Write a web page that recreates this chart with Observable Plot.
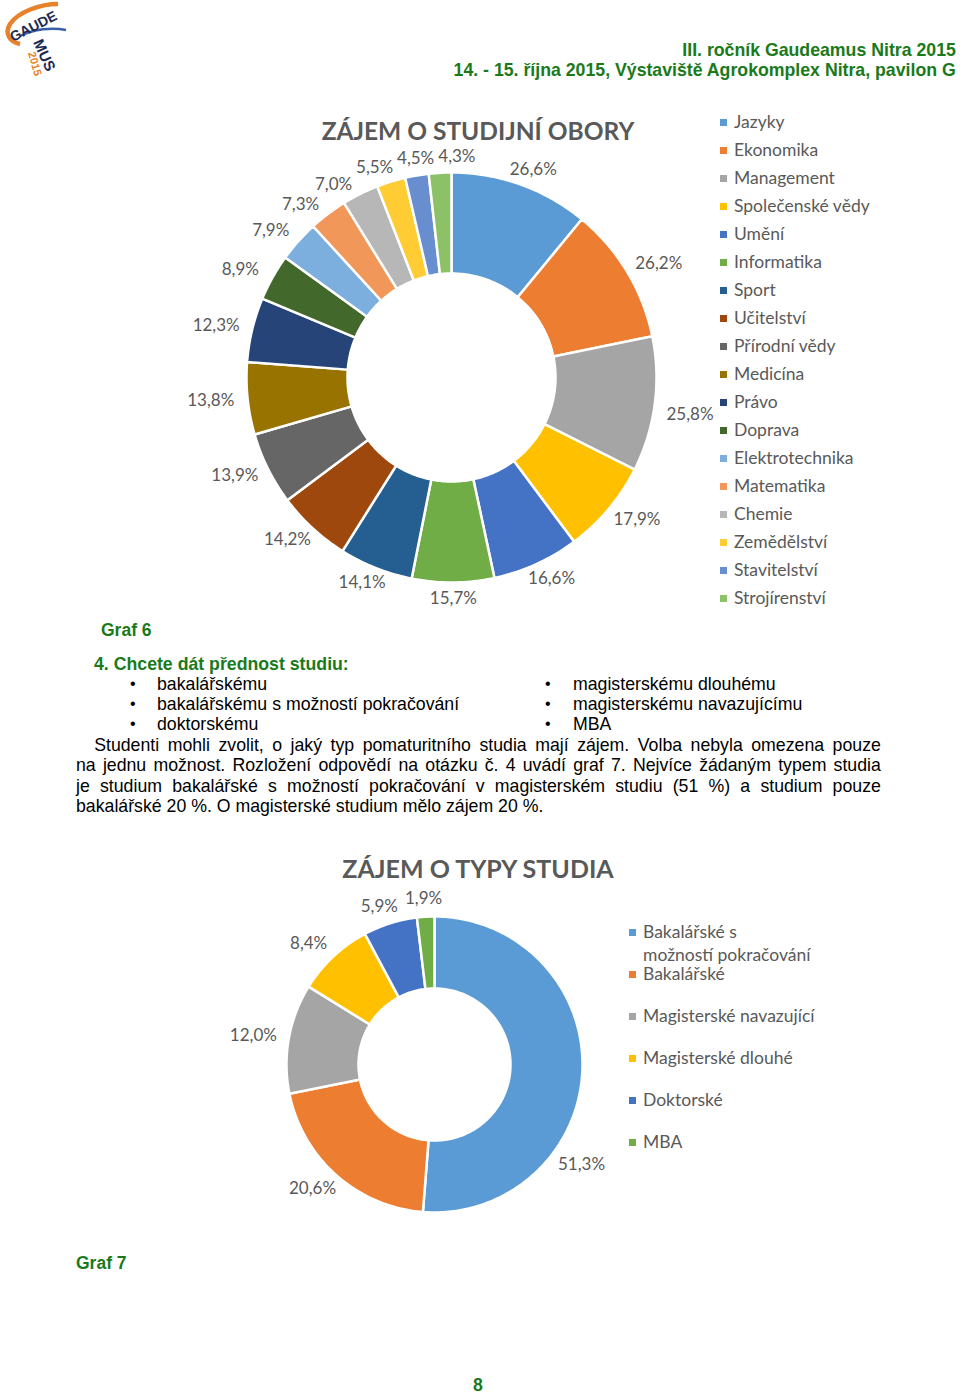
<!DOCTYPE html>
<html><head><meta charset="utf-8">
<script src="https://cdn.jsdelivr.net/npm/d3@7"></script>
<script src="https://cdn.jsdelivr.net/npm/@observablehq/plot@0.6"></script>
<style>
body{margin:0;background:#fff;}
#page{position:relative;width:960px;height:1397px;overflow:hidden;background:#fff;font-family:"Liberation Sans",Arial,sans-serif;color:#000;}
.abs{position:absolute;white-space:nowrap;}
.green{color:#1a7a1a;font-weight:bold;}
.nar{transform:scaleX(0.957);transform-origin:left center;}
.narR{transform:scaleX(0.957);transform-origin:right center;}
.ctitle{position:absolute;font-family:Lato,sans-serif;font-weight:bold;color:#595959;white-space:nowrap;transform:translateX(-50%);}
.leg{position:absolute;font-family:Lato,sans-serif;color:#595959;font-size:17.5px;white-space:nowrap;}
.leg i{position:absolute;left:-14px;width:7px;height:7px;}
.para{position:absolute;left:76px;width:841px;font-size:18.5px;line-height:20.3px;transform:scaleX(0.957);transform-origin:left top;}
.para div{text-align:justify;text-align-last:justify;white-space:nowrap;}
.para div.last{text-align-last:left;}
</style></head>
<body><div id="page">
<svg class="abs" style="left:0;top:0" width="90" height="90" viewBox="0 0 90 90">
  <path d="M58 4 C 40 4, 18 12, 10 24 C 4 34, 10 42, 20 44" fill="none" stroke="#E8822A" stroke-width="4.5"/>
  <path d="M20 36 C 34 29, 52 27, 66 30" fill="none" stroke="#3b5ea8" stroke-width="2.5"/>
  <text x="0" y="0" transform="translate(13,42) rotate(-27)" font-family="Liberation Sans" font-weight="bold" font-size="14" fill="#1d2a50">GAUDE</text>
  <text x="0" y="0" transform="translate(33,42) rotate(66)" font-family="Liberation Sans" font-weight="bold" font-size="15" fill="#1d2a50">MUS</text>
  <text x="0" y="0" transform="translate(28,53) rotate(74)" font-family="Liberation Sans" font-weight="bold" font-size="11" fill="#E8822A">2015</text>
</svg>
<div class="abs green narR" style="right:4px;top:40px;font-size:18.5px;line-height:20px;">III. ročník Gaudeamus Nitra 2015</div>
<div class="abs green narR" style="right:4px;top:60px;font-size:18.5px;line-height:20px;">14. - 15. října 2015, Výstaviště Agrokomplex Nitra, pavilon G</div>

<div class="ctitle" style="left:478px;top:118px;font-size:24.5px;line-height:26px;">ZÁJEM O STUDIJNÍ OBORY</div>
<div id="chart1" class="abs" style="left:180px;top:100px;"></div>
<div id="legend1"></div>

<div class="abs green" style="left:101px;top:620px;font-size:17.5px;line-height:20px;">Graf 6</div>
<div class="abs green nar" style="left:94px;top:654px;font-size:18.5px;line-height:20px;">4. Chcete dát přednost studiu:</div>
<div id="bullets"></div>
<div class="para" style="top:735px;">
  <div style="padding-left:19px;">Studenti mohli zvolit, o jaký typ pomaturitního studia mají zájem. Volba nebyla omezena pouze</div>
  <div>na jednu možnost. Rozložení odpovědí na otázku č. 4 uvádí graf 7. Nejvíce žádaným typem studia</div>
  <div>je studium bakalářské s možností pokračování v magisterském studiu (51 %) a studium pouze</div>
  <div class="last">bakalářské 20 %. O magisterské studium mělo zájem 20 %.</div>
</div>

<div class="ctitle" style="left:478px;top:855px;font-size:25px;line-height:26px;">ZÁJEM O TYPY STUDIA</div>
<div id="chart2" class="abs" style="left:220px;top:880px;"></div>
<div id="legend2"></div>

<div class="abs green" style="left:76px;top:1253px;font-size:17.5px;line-height:20px;">Graf 7</div>
<div class="abs green nar" style="left:473px;top:1375px;font-size:18.5px;line-height:20px;">8</div>
</div>
<script>
// ---- data: Graf 6 ----
const fieldNames = ["Jazyky","Ekonomika","Management","Společenské vědy","Umění","Informatika","Sport","Učitelství","Přírodní vědy","Medicína","Právo","Doprava","Elektrotechnika","Matematika","Chemie","Zemědělství","Stavitelství","Strojírenství"];
const fieldValues = [26.6,26.2,25.8,17.9,16.6,15.7,14.1,14.2,13.9,13.8,12.3,8.9,7.9,7.3,7.0,5.5,4.5,4.3];
const fieldColors = ["#5B9BD5","#ED7D31","#A5A5A5","#FFC000","#4472C4","#70AD47","#255E91","#9E480E","#666666","#997300","#264478","#43682B","#7CAFDD","#F1975A","#B7B7B7","#FFCD33","#698ED0","#8CC168"];
// ---- data: Graf 7 ----
const typeNames = ["Bakalářské s možností pokračování","Bakalářské","Magisterské navazující","Magisterské dlouhé","Doktorské","MBA"];
const typeLegend = [["Bakalářské s","možností pokračování"],["Bakalářské"],["Magisterské navazující"],["Magisterské dlouhé"],["Doktorské"],["MBA"]];
const typeValues = [51.3,20.6,12.0,8.4,5.9,1.9];
const typeColors = ["#5B9BD5","#ED7D31","#A5A5A5","#FFC000","#4472C4","#70AD47"];
// ---- question options ----
const optionsLeft = ["bakalářskému","bakalářskému s možností pokračování","doktorskému"];
const optionsRight = ["magisterskému dlouhému","magisterskému navazujícímu","MBA"];

const fmt = v => v.toFixed(1).replace(".", ",") + "%";

// spread labels along their ellipse so that they do not overlap each other or obstacles
function relax(labels, rx, ry, obstacles) {
  const h = 17, pad = 3, step = 0.003;
  const pos = L => [rx * Math.sin(L.a), -ry * Math.cos(L.a)];
  const hit = (p, w, q, w2) => Math.abs(p[0] - q[0]) < (w + w2) / 2 + pad && Math.abs(p[1] - q[1]) < h + pad;
  for (let it = 0; it < 3000; it++) {
    let moved = false;
    for (let i = 0; i < labels.length; i++) {
      const A = labels[i], B = labels[(i + 1) % labels.length];
      if (A === B) continue;
      if (hit(pos(A), A.w, pos(B), B.w)) { A.a -= step; B.a += step; moved = true; }
    }
    labels.forEach(L => obstacles.forEach(o => {
      const p = pos(L);
      if (p[0] + L.w / 2 + pad > o.x0 && p[0] - L.w / 2 - pad < o.x1 && p[1] + h / 2 + pad > o.y0 && p[1] - h / 2 - pad < o.y1) {
        const ox = (o.x0 + o.x1) / 2, oy = (o.y0 + o.y1) / 2;
        const tx = rx * Math.cos(L.a), ty = ry * Math.sin(L.a);
        L.a += ((p[0] - ox) * tx + (p[1] - oy) * ty >= 0 ? 1 : -1) * step;
        moved = true;
      }
    }));
    if (!moved) break;
  }
}

function donut({names, values, colors, rOuter, rInner, labelRx, labelRy, width, height, cx, cy, gap, obstacles}) {
  const total = d3.sum(values);
  let acc = 0;
  const pts = [], labels = [];
  values.forEach((v, i) => {
    const a0 = acc / total * 2 * Math.PI; acc += v;
    const a1 = acc / total * 2 * Math.PI;
    const n = Math.max(2, Math.ceil((a1 - a0) / (Math.PI / 180)));
    const ring = [];
    for (let k = 0; k <= n; k++) { const a = a0 + (a1 - a0) * k / n; ring.push([rOuter * Math.sin(a), rOuter * Math.cos(a)]); }
    for (let k = n; k >= 0; k--) { const a = a0 + (a1 - a0) * k / n; ring.push([rInner * Math.sin(a), rInner * Math.cos(a)]); }
    ring.push(ring[0]);
    ring.forEach(([x, y]) => pts.push({name: names[i], x, y}));
    const text = fmt(v);
    labels.push({a: (a0 + a1) / 2, text, w: text.length * 9.4});
  });
  relax(labels, labelRx, labelRy, obstacles);
  labels.forEach(L => { L.x = labelRx * Math.sin(L.a); L.y = labelRy * Math.cos(L.a); });
  return Plot.plot({
    width, height, margin: 0,
    x: {domain: [-cx, width - cx], axis: null},
    y: {domain: [cy - height, cy], axis: null},
    color: {domain: names, range: colors},
    style: {fontFamily: "Lato, sans-serif", background: "transparent", overflow: "visible"},
    marks: [
      Plot.line(pts, {x: "x", y: "y", z: "name", fill: "name", stroke: "white", strokeWidth: gap}),
      Plot.text(labels, {x: "x", y: "y", text: "text", fill: "#595959", fontSize: 17})
    ]
  });
}

// obstacles are given relative to the donut centre (page 451,377 and 434,1064)
document.getElementById("chart1").appendChild(donut({
  names: fieldNames, values: fieldValues, colors: fieldColors,
  rOuter: 205, rInner: 104, labelRx: 242, labelRy: 221,
  width: 540, height: 520, cx: 271, cy: 277, gap: 2.5,
  obstacles: [{x0: 716 - 451, x1: 900 - 451, y0: 110 - 377, y1: 612 - 377}]
}));
document.getElementById("chart2").appendChild(donut({
  names: typeNames, values: typeValues, colors: typeColors,
  rOuter: 148, rInner: 76, labelRx: 184, labelRy: 166,
  width: 400, height: 350, cx: 214, cy: 184, gap: 2.5,
  obstacles: [{x0: 606 - 434, x1: 830 - 434, y0: 920 - 1064, y1: 1152 - 1064}]
}));

// legends
const l1 = document.getElementById("legend1");
fieldNames.forEach((n, i) => {
  const d = document.createElement("div");
  d.className = "leg";
  d.style.left = "734px"; d.style.top = (110 + 28 * i) + "px"; d.style.lineHeight = "24px";
  d.innerHTML = `<i style="background:${fieldColors[i]};top:9px"></i>${n}`;
  l1.appendChild(d);
});
const l2 = document.getElementById("legend2");
typeLegend.forEach((lines, i) => {
  const d = document.createElement("div");
  d.className = "leg";
  d.style.left = "643px"; d.style.top = (920 + 42 * i) + "px"; d.style.lineHeight = "23px";
  d.innerHTML = `<i style="background:${typeColors[i]};top:9px"></i>${lines.join("<br>")}`;
  l2.appendChild(d);
});
// bullets
const b = document.getElementById("bullets");
[[optionsLeft, 130, 157], [optionsRight, 545, 573]].forEach(([opts, bx, tx]) => {
  opts.forEach((t, i) => {
    const y = 674 + 20 * i;
    const dot = document.createElement("div");
    dot.className = "abs"; dot.style.left = bx + "px"; dot.style.top = y + "px";
    dot.style.fontSize = "16px"; dot.style.lineHeight = "20px"; dot.textContent = "•";
    b.appendChild(dot);
    const tt = document.createElement("div");
    tt.className = "abs nar"; tt.style.left = tx + "px"; tt.style.top = y + "px";
    tt.style.fontSize = "18.5px"; tt.style.lineHeight = "20px"; tt.textContent = t;
    b.appendChild(tt);
  });
});
</script>
</body></html>
